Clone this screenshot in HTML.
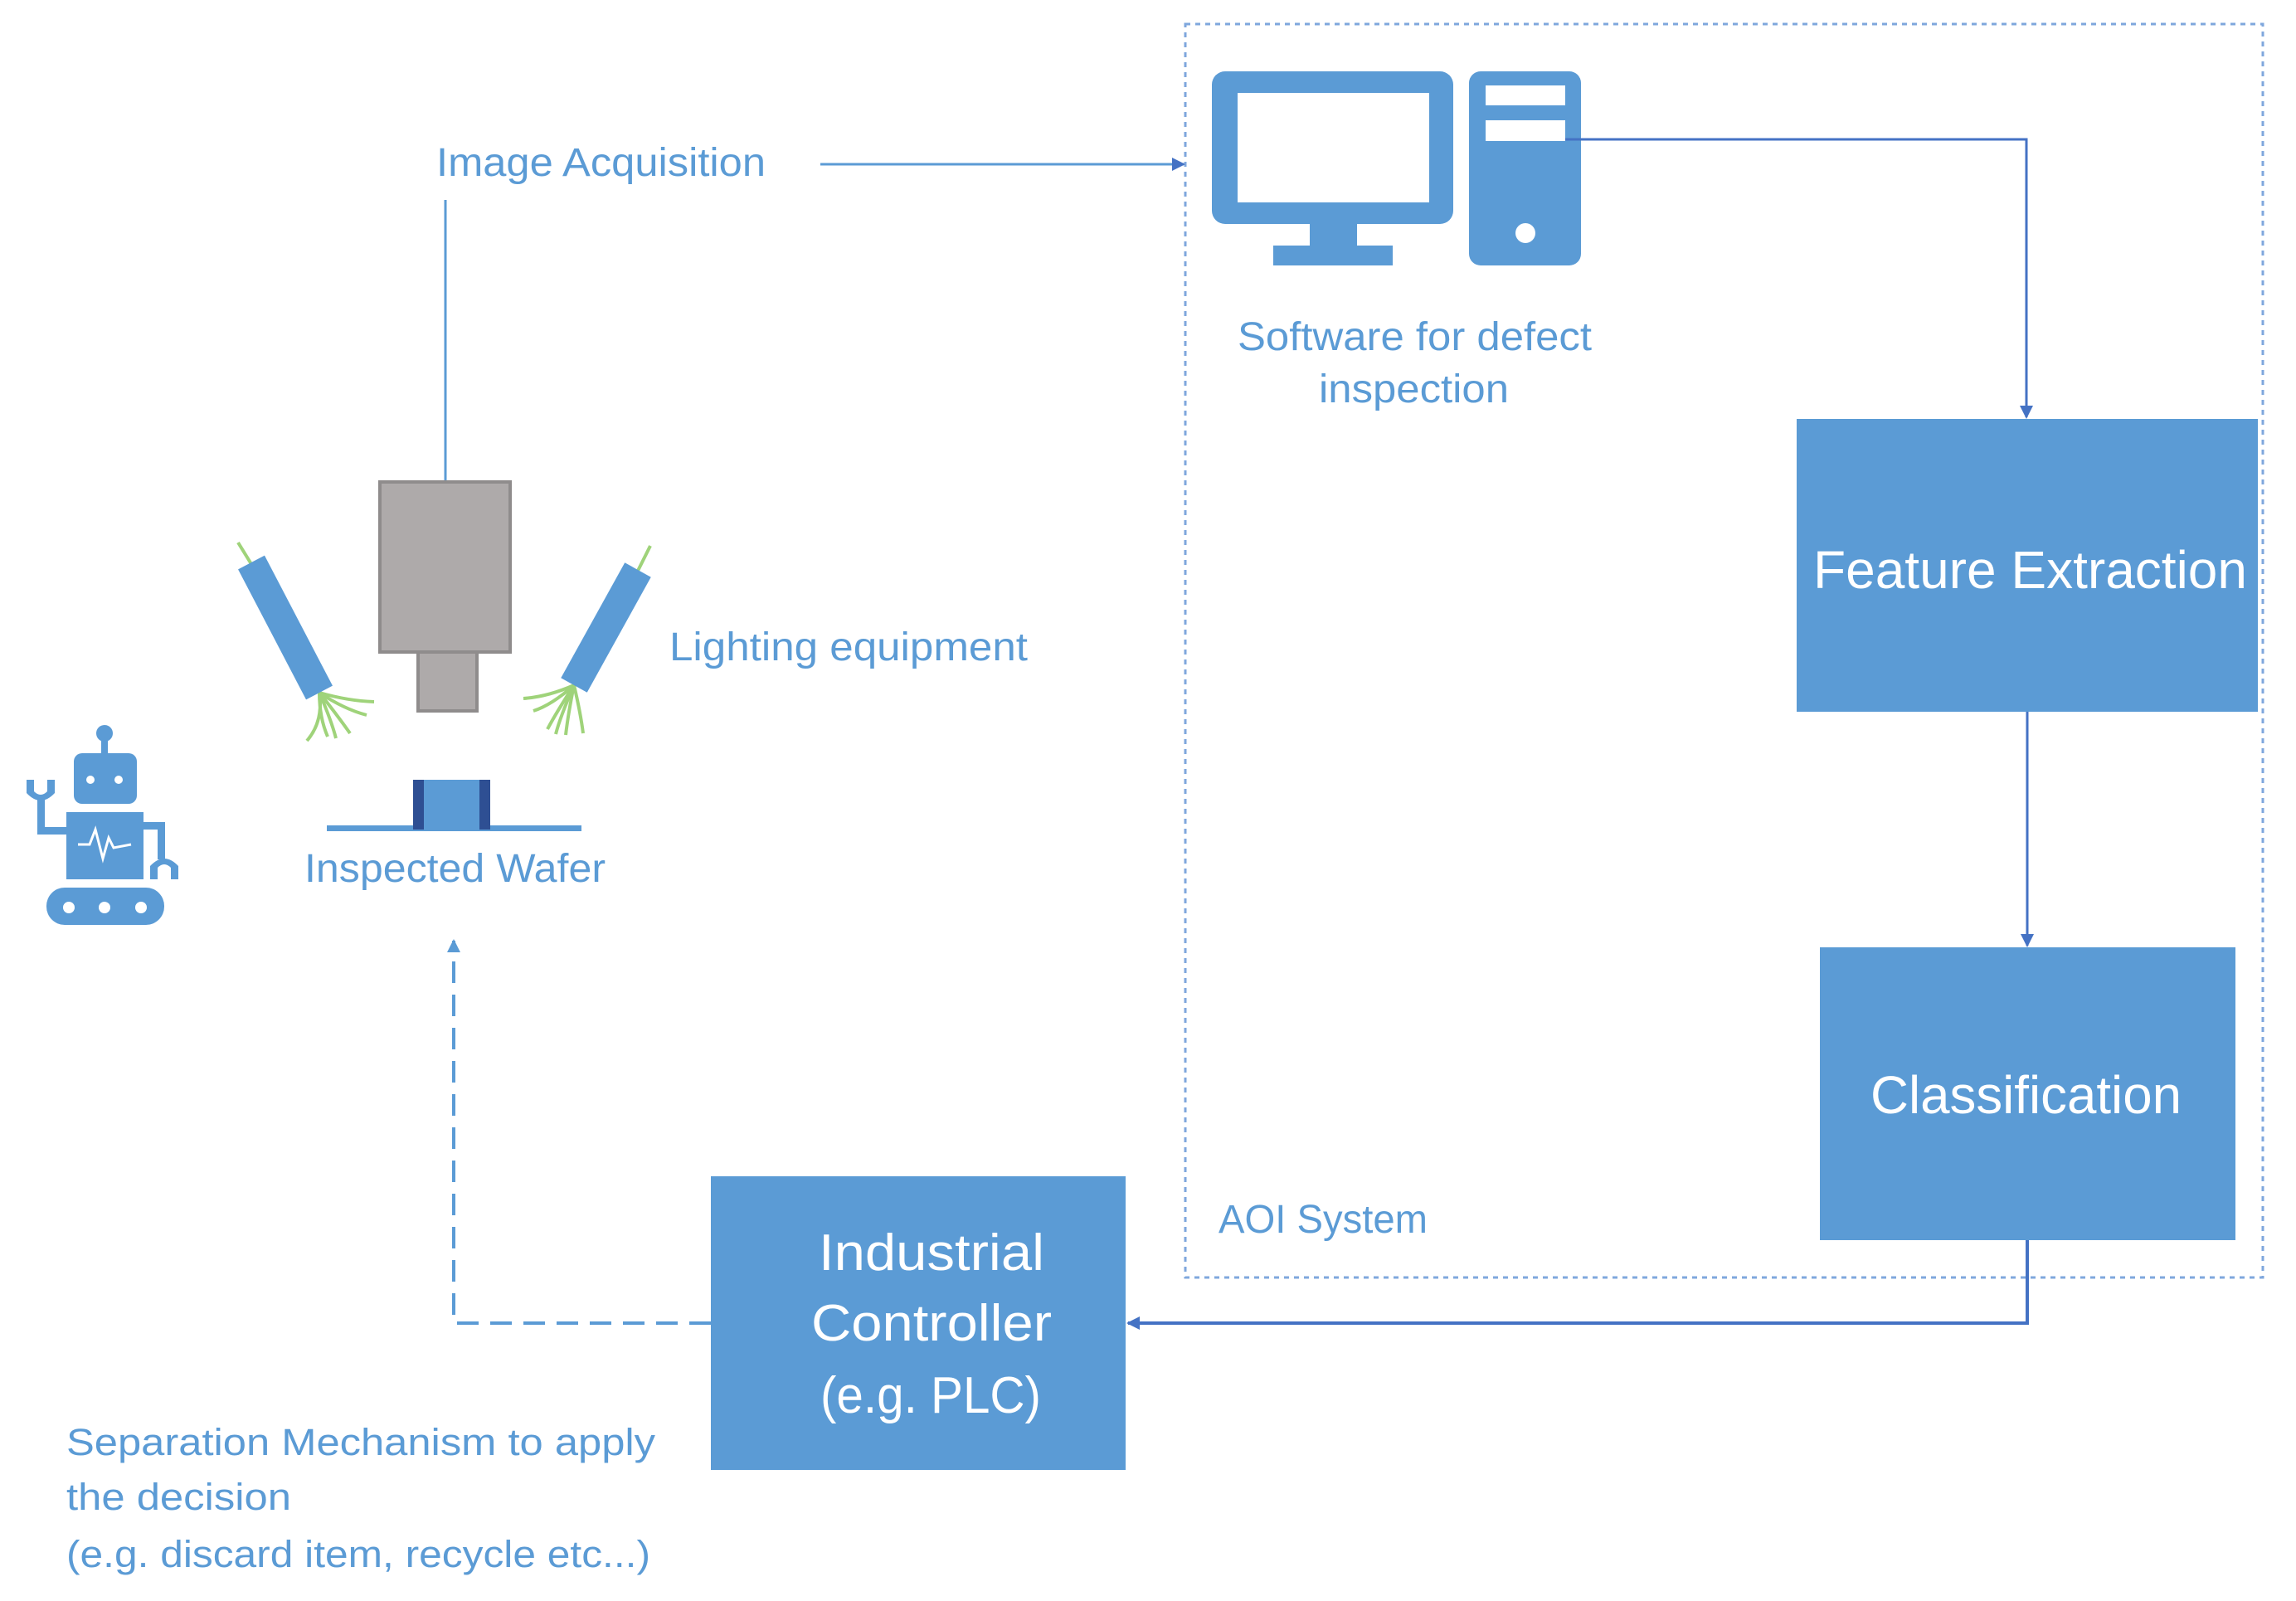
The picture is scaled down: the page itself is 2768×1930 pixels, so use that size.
<!DOCTYPE html>
<html><head><meta charset="utf-8"><style>
html,body{margin:0;padding:0;background:#fff;}
svg{display:block;}
text{font-family:"Liberation Sans",sans-serif;}
</style></head><body>
<svg width="2768" height="1930" viewBox="0 0 2768 1930" xmlns="http://www.w3.org/2000/svg">
<defs>
<marker id="ah2" markerWidth="16" markerHeight="16" refX="14" refY="8" orient="auto" markerUnits="userSpaceOnUse">
<path d="M0,0 L16,8 L0,16 z" fill="#4472c4"/></marker>
<marker id="ah3" markerWidth="16" markerHeight="16" refX="14" refY="8" orient="auto" markerUnits="userSpaceOnUse">
<path d="M0,0 L16,8 L0,16 z" fill="#5b9bd5"/></marker>
</defs>

<rect x="1429" y="29" width="1299" height="1511" fill="none" stroke="#7fa7dd" stroke-width="3" stroke-dasharray="6,6"/>

<rect x="1461" y="86" width="291" height="184" rx="16" fill="#5b9bd5"/>
<rect x="1492" y="112" width="231" height="132" fill="#fff"/>
<rect x="1579" y="268" width="57" height="30" fill="#5b9bd5"/>
<rect x="1535" y="296" width="144" height="24" fill="#5b9bd5"/>
<rect x="1771" y="86" width="135" height="234" rx="14" fill="#5b9bd5"/>
<rect x="1791" y="103" width="96" height="24" fill="#fff"/>
<rect x="1791" y="145" width="96" height="25" fill="#fff"/>
<circle cx="1839" cy="281" r="12" fill="#fff"/>

<text x="1492" y="422" font-size="48" fill="#5b9bd5" textLength="427" lengthAdjust="spacingAndGlyphs">Software for defect</text>
<text x="1590" y="485" font-size="48" fill="#5b9bd5" textLength="229" lengthAdjust="spacingAndGlyphs">inspection</text>

<polyline points="1887,168 2443,168 2443,503" fill="none" stroke="#4472c4" stroke-width="3" marker-end="url(#ah2)"/>

<rect x="2166" y="505" width="556" height="353" fill="#5b9bd5"/>
<text x="2186" y="709" font-size="64" fill="#fff" textLength="523" lengthAdjust="spacingAndGlyphs">Feature Extraction</text>

<line x1="2444" y1="858" x2="2444" y2="1140" stroke="#4472c4" stroke-width="3" marker-end="url(#ah2)"/>

<rect x="2194" y="1142" width="501" height="353" fill="#5b9bd5"/>
<text x="2255" y="1342" font-size="64" fill="#fff" textLength="375" lengthAdjust="spacingAndGlyphs">Classification</text>

<text x="1469" y="1486" font-size="48" fill="#5b9bd5" textLength="252" lengthAdjust="spacingAndGlyphs">AOI System</text>

<polyline points="2444,1495 2444,1595 1360,1595" fill="none" stroke="#4472c4" stroke-width="4" marker-end="url(#ah2)"/>

<rect x="857" y="1418" width="500" height="354" fill="#5b9bd5"/>
<text x="987" y="1531" font-size="62" fill="#fff" textLength="272" lengthAdjust="spacingAndGlyphs">Industrial</text>
<text x="978" y="1616" font-size="62" fill="#fff" textLength="290" lengthAdjust="spacingAndGlyphs">Controller</text>
<text x="989" y="1703" font-size="62" fill="#fff" textLength="266" lengthAdjust="spacingAndGlyphs">(e.g. PLC)</text>

<polyline points="857,1595 547,1595 547,1134" fill="none" stroke="#5b9bd5" stroke-width="4" stroke-dasharray="26,14" marker-end="url(#ah3)"/>

<text x="80" y="1754" font-size="45" fill="#5b9bd5" textLength="710" lengthAdjust="spacingAndGlyphs">Separation Mechanism to apply</text>
<text x="80" y="1820" font-size="45" fill="#5b9bd5" textLength="271" lengthAdjust="spacingAndGlyphs">the decision</text>
<text x="80" y="1889" font-size="45" fill="#5b9bd5" textLength="704" lengthAdjust="spacingAndGlyphs">(e.g. discard item, recycle etc...)</text>

<text x="526" y="212" font-size="48" fill="#5b9bd5" textLength="397" lengthAdjust="spacingAndGlyphs">Image Acquisition</text>
<line x1="989" y1="198" x2="1427" y2="198" stroke="#5b9bd5" stroke-width="3" marker-end="url(#ah2)"/>
<line x1="537" y1="241" x2="537" y2="582" stroke="#5b9bd5" stroke-width="3"/>

<rect x="458" y="581" width="157" height="205" fill="#aeaaaa" stroke="#8f8c8c" stroke-width="4"/>
<rect x="504" y="786" width="71" height="71" fill="#aeaaaa" stroke="#8f8c8c" stroke-width="4"/>

<g stroke="#9fd37a" stroke-width="4" fill="none">
<line x1="287" y1="654" x2="303" y2="680"/>
<path d="M385,835 Q390,870 370,893"/>
<path d="M385,835 Q405,860 422,884"/>
<path d="M385,835 Q420,845 451,846"/>
<path d="M385,835 Q415,855 442,862"/>
<path d="M385,835 Q385,865 395,888"/>
<path d="M385,835 Q400,870 405,890"/>
<line x1="784" y1="658" x2="769" y2="688"/>
<path d="M692,826 Q660,840 631,842"/>
<path d="M692,826 Q670,860 660,879"/>
<path d="M692,826 Q700,860 703,884"/>
<path d="M692,826 Q665,850 643,857"/>
<path d="M692,826 Q685,860 682,886"/>
<path d="M692,826 Q675,865 670,885"/>
</g>
<line x1="303" y1="678" x2="385" y2="835" stroke="#5b9bd5" stroke-width="36"/>
<line x1="769" y1="687" x2="692" y2="826" stroke="#5b9bd5" stroke-width="36"/>

<text x="807" y="796" font-size="48" fill="#5b9bd5" textLength="432" lengthAdjust="spacingAndGlyphs">Lighting equipment</text>

<rect x="394" y="995" width="307" height="7" fill="#5b9bd5"/>
<rect x="498" y="940" width="93" height="60" fill="#5b9bd5"/>
<rect x="498" y="940" width="13" height="60" fill="#2e4f93"/>
<rect x="578" y="940" width="13" height="60" fill="#2e4f93"/>
<text x="367" y="1063" font-size="48" fill="#5b9bd5" textLength="363" lengthAdjust="spacingAndGlyphs">Inspected Wafer</text>

<g fill="#5b9bd5">
<circle cx="126" cy="884" r="10"/>
<rect x="122" y="884" width="8" height="26"/>
<rect x="89" y="908" width="76" height="61" rx="10"/>
<rect x="80" y="979" width="93" height="81"/>
<rect x="56" y="1070" width="142" height="45" rx="22"/>
<rect x="45" y="960" width="9" height="46"/>
<rect x="45" y="997" width="40" height="9"/>
<path d="M32,940 h9 v14 q8,8 16,0 v-14 h9 v16 q-17,18 -34,0 z"/>
<rect x="170" y="991" width="28" height="9"/>
<rect x="190" y="991" width="9" height="45"/>
<path d="M181,1060 h9 v-14 q8,-8 16,0 v14 h9 v-16 q-17,-18 -34,0 z"/>
</g>
<g fill="#fff">
<circle cx="109" cy="940" r="5"/><circle cx="143" cy="940" r="5"/>
<circle cx="83" cy="1094" r="7"/><circle cx="126" cy="1094" r="7"/><circle cx="170" cy="1094" r="7"/>
</g>
<polyline points="94,1018 108,1018 115,1000 124,1035 131,1010 137,1022 158,1018" fill="none" stroke="#fff" stroke-width="3"/>
</svg>
</body></html>
